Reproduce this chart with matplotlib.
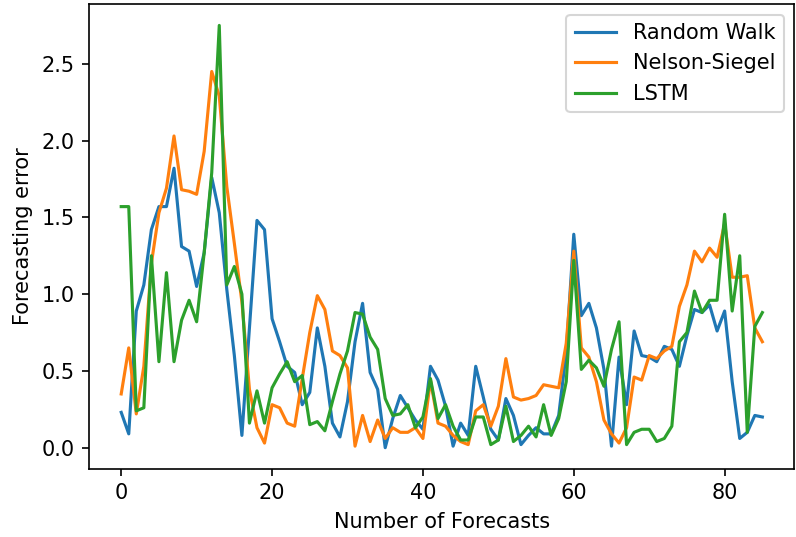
import matplotlib
matplotlib.use('Agg')
import matplotlib.pyplot as plt

random_walk = [0.23, 0.09, 0.89, 1.06, 1.42, 1.57, 1.57, 1.82, 1.31, 1.28,
               1.05, 1.27, 1.76, 1.53, 1.03, 0.60, 0.08, 0.78, 1.48, 1.42,
               0.84, 0.69, 0.53, 0.49, 0.28, 0.36, 0.78, 0.53, 0.16, 0.07,
               0.30, 0.69, 0.94, 0.49, 0.38, 0.00, 0.19, 0.34, 0.26, 0.18,
               0.12, 0.53, 0.44, 0.27, 0.01, 0.16, 0.08, 0.53, 0.33, 0.12,
               0.05, 0.32, 0.21, 0.02, 0.08, 0.13, 0.09, 0.09, 0.21, 0.62,
               1.39, 0.86, 0.94, 0.78, 0.51, 0.01, 0.59, 0.28, 0.76, 0.60,
               0.59, 0.56, 0.66, 0.64, 0.53, 0.73, 0.90, 0.88, 0.93, 0.76,
               0.89, 0.43, 0.06, 0.10, 0.21, 0.20]

nelson_siegel = [0.35, 0.65, 0.22, 0.53, 1.20, 1.53, 1.69, 2.03, 1.68, 1.67,
                 1.65, 1.93, 2.45, 2.29, 1.70, 1.33, 0.95, 0.38, 0.13, 0.03,
                 0.28, 0.26, 0.16, 0.14, 0.45, 0.75, 0.99, 0.90, 0.63, 0.60,
                 0.52, 0.01, 0.21, 0.04, 0.18, 0.06, 0.13, 0.10, 0.10, 0.13,
                 0.06, 0.44, 0.16, 0.14, 0.08, 0.04, 0.02, 0.24, 0.28, 0.14,
                 0.27, 0.58, 0.33, 0.31, 0.32, 0.34, 0.41, 0.40, 0.39, 0.68,
                 1.28, 0.65, 0.59, 0.43, 0.18, 0.09, 0.03, 0.13, 0.46, 0.44,
                 0.60, 0.58, 0.63, 0.66, 0.92, 1.06, 1.28, 1.21, 1.30, 1.24,
                 1.46, 1.11, 1.11, 1.12, 0.78, 0.69]

lstm = [1.57, 1.57, 0.24, 0.26, 1.25, 0.56, 1.14, 0.56, 0.83, 0.96,
        0.82, 1.27, 1.79, 2.75, 1.06, 1.18, 1.00, 0.16, 0.37, 0.16,
        0.39, 0.48, 0.56, 0.43, 0.47, 0.15, 0.17, 0.11, 0.30, 0.48,
        0.63, 0.88, 0.87, 0.72, 0.64, 0.32, 0.21, 0.22, 0.28, 0.13,
        0.20, 0.45, 0.19, 0.28, 0.14, 0.05, 0.05, 0.20, 0.20, 0.02,
        0.05, 0.27, 0.04, 0.08, 0.14, 0.07, 0.28, 0.08, 0.19, 0.43,
        1.22, 0.51, 0.57, 0.52, 0.40, 0.64, 0.82, 0.02, 0.10, 0.12,
        0.12, 0.04, 0.06, 0.14, 0.69, 0.75, 1.02, 0.88, 0.96, 0.96,
        1.52, 0.89, 1.25, 0.10, 0.79, 0.88]

fig = plt.figure(figsize=(796 / 150, 537 / 150), dpi=150)
ax = fig.add_subplot(111)
ax.plot(random_walk, label='Random Walk')
ax.plot(nelson_siegel, label='Nelson-Siegel')
ax.plot(lstm, label='LSTM')
ax.set_xlabel('Number of Forecasts')
ax.set_ylabel('Forecasting error')
ax.legend(loc='upper right')
fig.subplots_adjust(left=0.112, right=0.998, bottom=0.127, top=0.992)
fig.savefig('out.png', dpi=150)
